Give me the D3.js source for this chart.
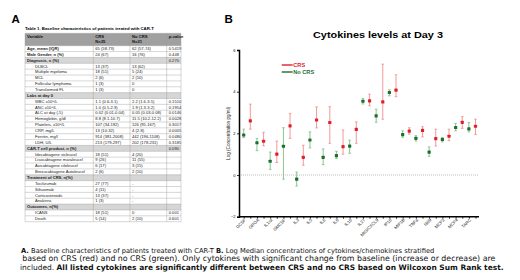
<!DOCTYPE html>
<html>
<head>
<meta charset="utf-8">
<script src="https://cdn.jsdelivr.net/npm/d3@7"></script>
<style>
  html, body { margin: 0; padding: 0; background: #fff; }
  svg { display: block; }
</style>
</head>
<body>
<svg id="fig"></svg>
<script>
// panel B data (log median + range)
const categories = ["GCSF", "GROA", "IL1ra", "GMCSF", "IL3", "IL5", "IL6", "IL8", "IL10", "IL27",
  "MIG/CXCL9", "IP10", "MIP1B", "TNFa", "I309", "MCP2", "MCP4", "TARC"];
const noCrsMedian = [1.92, 1.55, 0.66, 1.38, -0.2, 1.68, 0.85, 0.93, 1.39, 3.54, 2.84, 3.96, 1.94, 1.76, 1.1, 1.71, 2.28, 2.21];
const noCrsLow = [1.8, 1.17, 0.27, -0.2, -0.53, 1.3, 0.5, 0.8, 1.04, 3.41, 2.53, 3.8, 1.81, 1.63, 0.9, 1.59, 2.12, 2.07];
const noCrsHigh = [2.2, 1.75, 1.1, 2.27, 0.14, 2.07, 1.25, 1.14, 1.67, 3.67, 3.16, 4.09, 2.12, 1.89, 1.35, 1.78, 2.48, 2.52];
const crsMedian = [2.6, 1.62, 1.0, 2.36, 0.85, 2.64, 2.52, 1.36, 2.19, 3.56, 3.51, 4.07, 2.11, 2.14, 1.75, 1.86, 2.53, 2.34];
const crsLow = [2.2, 1.4, 0.6, 1.76, 0.47, 2.26, 1.52, 1.0, 1.52, 3.32, 2.68, 3.76, 1.96, 1.83, 1.39, 1.65, 2.24, 1.94];
const crsHigh = [3.4, 2.05, 1.63, 2.96, 1.43, 3.27, 3.28, 2.16, 2.55, 3.88, 5.32, 4.81, 2.27, 2.32, 2.2, 2.2, 2.8, 2.68];
const yTicks = [-2, 0, 2, 4, 6];
const seriesNames = ["CRS", "No CRS"];

// panel A table
const tableTitle = "Table 1. Baseline characteristics of patients treated with CAR-T";
const tableHeader = [["Variable", ""], ["CRS", "N=35"], ["No CRS", "N=21"], ["p-value", ""]];
// [label, CRS, No CRS, p, kind]  kind: b = bold row, s = section row, i = indented row
const tableRows = [
  ["Age, mean (IQR)", "65 (58-73)", "62 (57-74)", "0.5419", "b"],
  ["Male Gender, n (%)", "24 (67)", "16 (76)", "0.448", "b"],
  ["Diagnosis, n (%)", "", "", "0.270", "s"],
  ["DLBCL", "13 (37)", "13 (62)", "", "i"],
  ["Multiple myeloma", "18 (51)", "5 (24)", "", "i"],
  ["MCL", "2 (6)", "2 (10)", "", "i"],
  ["Follicular lymphoma", "1 (3)", "0", "", "i"],
  ["Transformed FL", "1 (3)", "0", "", "i"],
  ["Labs at day 0", "", "", "", "s"],
  ["WBC x10\u2079/L", "1.1 (0.6-3.1)", "2.2 (1.6-3.5)", "0.1510", "i"],
  ["ANC x10\u2079/L", "1.0 (0.5-2.9)", "1.9 (1.3-3.2)", "0.1954", "i"],
  ["ALC at day (-5)", "0.02 (0.01-0.04)", "0.05 (0.03-0.08)", "0.0146", "i"],
  ["Hemoglobin, g/dl", "8.8 (8.1-10.7)", "11.5 (10.2-12.2)", "0.0028", "i"],
  ["Platelets, x10\u2079/L", "107 (34-192)", "126 (95-167)", "0.3017", "i"],
  ["CRP, mg/L", "13 (10-32)", "4 (2-8)", "0.0005", "i"],
  ["Ferritin, mg/l", "914 (381-2008)", "442 (196-1108)", "0.0480", "i"],
  ["LDH, U/L", "213 (179-297)", "202 (178-231)", "0.3185", "i"],
  ["CAR-T cell product, n (%)", "", "", "0.090", "s"],
  ["Idecabtagene vicleucel", "18 (51)", "4 (20)", "", "i"],
  ["Lisocabtagene maraleucel", "9 (26)", "11 (55)", "", "i"],
  ["Axicabtagene ciloleucel", "6 (17)", "3 (15)", "", "i"],
  ["Brexucabtagene Autoleucel", "2 (6)", "2 (10)", "", "i"],
  ["Treatment of CRS, n(%)", "", "", "", "s"],
  ["Tocilizumab", "27 (77)", "-", "", "i"],
  ["Siltuximab", "4 (11)", "-", "", "i"],
  ["Corticosteroids", "13 (37)", "-", "", "i"],
  ["Anakinra", "1 (3)", "-", "", "i"],
  ["Outcomes, n(%)", "", "", "", "s"],
  ["ICANS", "18 (51)", "0", "0.001", "i"],
  ["Death", "5 (14)", "2 (10)", "0.601", "i"]
];

const captionLines = [
  [["A.", true], [" Baseline characteristics of patients treated with CAR-T ", false], ["B.", true],
   [" Log Median concentrations of cytokines/chemokines stratified", false]],
  [["based on CRS (red) and no CRS (green). Only cytokines with significant change from baseline (increase or decrease) are", false]],
  [["included. ", false], ["All listed cytokines are significantly different between CRS and no CRS based on Wilcoxon Sum Rank test.", true]]
];

const W = 520, H = 280;
const svg = d3.select("#fig").attr("width", W).attr("height", H);
svg.append("rect").attr("width", W).attr("height", H).attr("fill", "#fff");

const red = "#e3202a", redBar = "#ef8d8d", green = "#1d6f2f", greenBar = "#80bd84";

// ---------- panel A ----------
svg.append("text").attr("x", 11.5).attr("y", 23.3)
  .style("font-family", "Liberation Sans").style("font-weight", "bold").style("font-size", "11.5px")
  .text("A");

const tab = svg.append("g").style("font-family", "Liberation Sans");
const colX = [25, 93.3, 130, 166.7, 181];
const headTop = 33.3, headBot = 45.7, rowH = (221.7 - headBot) / tableRows.length;

tab.append("text").attr("x", 25).attr("y", 29.5)
  .style("font-size", "4.3px").style("font-weight", "bold").text(tableTitle);

tab.append("rect").attr("x", colX[0]).attr("y", headTop)
  .attr("width", colX[4] - colX[0]).attr("height", headBot - headTop).attr("fill", "#a0a0a0");

tableHeader.forEach((h, j) => {
  h.forEach((t, k) => {
    tab.append("text").attr("x", colX[j] + 2).attr("y", headTop + 4.6 + k * 5)
      .style("font-size", "4.2px").style("font-weight", "bold").attr("fill", "#111").text(t);
  });
});

const rowG = tab.selectAll("g.row").data(tableRows).join("g")
  .attr("class", "row")
  .attr("transform", (d, i) => `translate(0,${headBot + i * rowH})`);

rowG.filter(d => d[4] === "s").append("rect")
  .attr("x", colX[0]).attr("width", colX[4] - colX[0]).attr("height", rowH)
  .attr("fill", "#d6d6d6");

rowG.append("text")
  .attr("x", d => d[4] === "i" ? colX[0] + 10 : colX[0] + 2)
  .attr("y", rowH - 1.6)
  .style("font-size", "4.1px")
  .style("font-weight", d => d[4] === "i" ? "normal" : "bold")
  .attr("fill", "#222")
  .text(d => d[0]);

[1, 2, 3].forEach(j => {
  rowG.append("text").attr("x", colX[j] + 2).attr("y", rowH - 1.6)
    .style("font-size", "4.1px").attr("fill", "#222").text(d => d[j]);
});

// grid
d3.range(tableRows.length + 1).forEach(i => {
  tab.append("line").attr("x1", colX[0]).attr("x2", colX[4])
    .attr("y1", headBot + i * rowH).attr("y2", headBot + i * rowH)
    .attr("stroke", "#9a9a9a").attr("stroke-width", 0.4);
});
tab.append("line").attr("x1", colX[0]).attr("x2", colX[4]).attr("y1", headTop).attr("y2", headTop)
  .attr("stroke", "#9a9a9a").attr("stroke-width", 0.4);
colX.forEach(x => {
  tab.append("line").attr("x1", x).attr("x2", x).attr("y1", headTop).attr("y2", 221.7)
    .attr("stroke", "#9a9a9a").attr("stroke-width", 0.4);
});

// ---------- panel B ----------
svg.append("text").attr("x", 224.5).attr("y", 23)
  .style("font-family", "Liberation Sans").style("font-weight", "bold").style("font-size", "11.5px")
  .text("B");

svg.append("text").attr("x", 378).attr("y", 37.5).attr("text-anchor", "middle")
  .attr("textLength", 130).attr("lengthAdjust", "spacingAndGlyphs")
  .style("font-family", "Liberation Sans").style("font-weight", "bold").style("font-size", "9.6px")
  .text("Cytokines levels at Day 3");

const slots = categories.flatMap(c => [c + "|no", c + "|crs"]);
const x = d3.scalePoint().domain(slots).range([243.7, 475.5]);
const y = d3.scaleLinear().domain([-2, 6]).range([216.7, 50]);
const axL = 239, axR = 479;

const chart = svg.append("g").style("font-family", "Liberation Sans");

// zero reference
chart.append("line").attr("x1", axL).attr("x2", axR).attr("y1", y(0)).attr("y2", y(0))
  .attr("stroke", "#888").attr("stroke-width", 0.7).attr("stroke-dasharray", "0.8,1.2");

// y axis
const yAxis = chart.append("g").attr("transform", `translate(${axL},0)`)
  .call(d3.axisLeft(y).tickValues(yTicks).tickSize(2).tickPadding(1.5));
yAxis.select(".domain").attr("stroke-width", 1.5);
yAxis.selectAll(".tick line").attr("stroke-width", 0.8);
yAxis.selectAll("text").style("font-size", "4px").style("font-family", "Liberation Sans");

chart.append("text")
  .attr("transform", `translate(229.5,${y(2)}) rotate(-90)`)
  .attr("text-anchor", "middle").style("font-size", "4.6px").attr("fill", "#222")
  .text("Log (Concentration pg/ml)");

// x axis
const xAxis = chart.append("g").attr("transform", `translate(0,${y(-2)})`)
  .call(d3.axisBottom(x).tickSize(2).tickFormat(""));
xAxis.select(".domain").attr("d", `M${axL},0H${axR}`).attr("stroke-width", 1.5);
xAxis.selectAll(".tick line").attr("stroke-width", 0.8);

chart.append("g").selectAll("text").data(categories).join("text")
  .attr("transform", c => `translate(${x(c + "|no") + 2.5},${y(-2) + 3.6}) rotate(-45)`)
  .attr("text-anchor", "end").style("font-size", "4.3px").attr("fill", "#222")
  .text(c => c);

// error bars + points
function drawSeries(key, med, lo, hi, barCol, dotCol) {
  const g = chart.append("g");
  const d = categories.map((c, i) => ({ c, m: med[i], l: lo[i], h: hi[i] }));
  g.selectAll("line.v").data(d).join("line").attr("class", "v")
    .attr("x1", e => x(e.c + key)).attr("x2", e => x(e.c + key))
    .attr("y1", e => y(e.l)).attr("y2", e => y(e.h))
    .attr("stroke", barCol).attr("stroke-width", 0.9);
  ["l", "h"].forEach(k => {
    g.selectAll("line.c" + k).data(d).join("line").attr("class", "c" + k)
      .attr("x1", e => x(e.c + key) - 1.3).attr("x2", e => x(e.c + key) + 1.3)
      .attr("y1", e => y(e[k])).attr("y2", e => y(e[k]))
      .attr("stroke", barCol).attr("stroke-width", 0.8);
  });
  g.selectAll("rect").data(d).join("rect")
    .attr("x", e => x(e.c + key) - 1.6).attr("y", e => y(e.m) - 1.6)
    .attr("width", 3.2).attr("height", 3.2).attr("rx", 0.6).attr("fill", dotCol);
}
drawSeries("|no", noCrsMedian, noCrsLow, noCrsHigh, greenBar, green);
drawSeries("|crs", crsMedian, crsLow, crsHigh, redBar, red);

// legend
const leg = chart.append("g");
[[red, 65], [green, 72]].forEach(([col, ly], i) => {
  leg.append("line").attr("x1", 281.7).attr("x2", 292.7).attr("y1", ly).attr("y2", ly)
    .attr("stroke", col).attr("stroke-width", 1.4);
  leg.append("text").attr("x", 293.3).attr("y", ly + 2).attr("fill", col)
    .style("font-size", "5.6px").style("font-weight", "bold").text(seriesNames[i]);
});

// ---------- caption ----------
// font size per line is scaled so each line spans the same width as in the figure
const capX = [21, 22.3, 20], capW = [413, 473, 484], capY = [252.5, 261, 269.5];
captionLines.forEach((parts, i) => {
  const t = svg.append("text").attr("x", capX[i]).attr("y", capY[i])
    .style("font-family", "DejaVu Sans").style("font-size", "6.8px").attr("fill", "#111");
  parts.forEach(([s, b]) => t.append("tspan").style("font-weight", b ? "bold" : "normal").text(s));
  const w = t.node().getComputedTextLength();
  t.style("font-size", (6.8 * capW[i] / w).toFixed(2) + "px");
});
</script>
</body>
</html>
